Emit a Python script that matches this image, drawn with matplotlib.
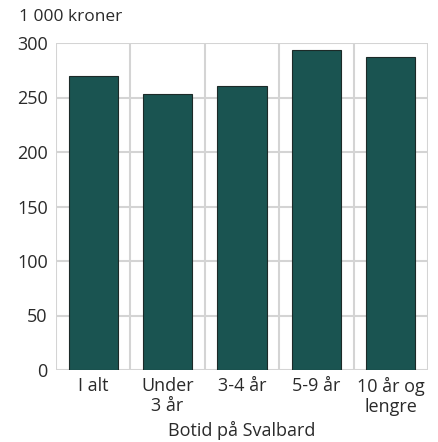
import matplotlib
matplotlib.use("Agg")
import matplotlib.pyplot as plt
import numpy as np

categories = ["I alt", "Under\n3 år", "3-4 år", "5-9 år", "10 år og\nlengre"]
values = [270, 253, 261, 294, 287]
yticks = [0, 50, 100, 150, 200, 250, 300]

plt.rcParams['font.family'] = ['Open Sans', 'DejaVu Sans']

fig = plt.figure(figsize=(4.38, 4.42), dpi=100)
ax = fig.add_axes([56/438, 1-370/442, (428-56)/438, (370-43)/442])

x = np.arange(len(categories))
ax.bar(x, values, width=0.66, color="#1a5451", edgecolor="#1c2a28", linewidth=0.8, zorder=3)

ax.set_xlim(-0.5, len(categories)-0.5)
ax.set_ylim(0, 300)
ax.set_yticks(yticks)
ax.set_xticks(x)
ax.set_xticklabels(categories, fontsize=13, color="#2a2a2a", linespacing=1.12)
ax.set_xticks(np.arange(-0.5, len(categories)), minor=True)
ax.tick_params(axis='y', labelsize=13, length=0, pad=6, colors="#2a2a2a")
ax.tick_params(axis='x', which='both', length=0, pad=5)
ax.grid(axis='y', color="#d4d4d4", linewidth=1.5, zorder=0)
ax.grid(axis='x', which='minor', color="#d4d4d4", linewidth=1.5, zorder=0)
ax.grid(axis='x', which='major', visible=False)
for s in ax.spines.values():
    s.set_visible(False)

ax.set_xlabel("Botid på Svalbard", fontsize=13, color="#2a2a2a", labelpad=4)
fig.text(19/438, 1-17/442, "1 000 kroner", fontsize=12.5, color="#2a2a2a", va="center", ha="left")

fig.savefig("out.png", dpi=100)
